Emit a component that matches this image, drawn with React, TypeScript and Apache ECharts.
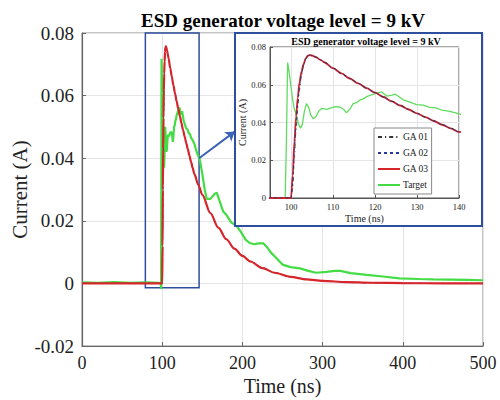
import React, { useEffect, useRef } from "react";
import * as echarts from "echarts";

// ---- data ----
const gaTime = [0, 100, 100.4, 100.8, 101.2, 101.6, 102, 102.5, 103, 103.5, 104, 104.5, 105, 106, 107, 108, 110, 112, 114, 116, 118, 120, 122, 124, 126, 128, 130, 132, 134, 136, 138, 140, 145, 150, 160, 170, 180, 190, 200, 210, 225, 240, 260, 280, 300, 330, 360, 400, 450, 500];
const ga01 = [0, 0, 0.005, 0.021, 0.036, 0.048, 0.057, 0.065, 0.07, 0.0735, 0.0752, 0.0757, 0.0756, 0.0747, 0.0733, 0.0719, 0.0689, 0.0661, 0.0634, 0.0608, 0.0583, 0.0559, 0.0536, 0.0513, 0.0491, 0.047, 0.0449, 0.0429, 0.0409, 0.0389, 0.037, 0.0351, 0.0316, 0.0284, 0.0226, 0.0179, 0.0142, 0.0112, 0.0089, 0.0071, 0.005, 0.0035, 0.0021, 0.0013, 0.0008, 0.0004, 0.0002, 0.0001, 0, 0];
const ga02 = [0, 0, 0.008, 0.025, 0.039, 0.05, 0.059, 0.066, 0.0705, 0.0738, 0.0753, 0.0757, 0.0756, 0.0746, 0.0732, 0.0718, 0.0688, 0.066, 0.0633, 0.0607, 0.0582, 0.0558, 0.0535, 0.0512, 0.049, 0.0469, 0.0448, 0.0428, 0.0408, 0.0388, 0.0369, 0.035, 0.0315, 0.0283, 0.0225, 0.0178, 0.0141, 0.0111, 0.0088, 0.007, 0.0049, 0.0034, 0.0021, 0.0013, 0.0008, 0.0004, 0.0002, 0.0001, 0, 0];
const ga03 = [0, 0, 0.012, 0.03, 0.043, 0.053, 0.061, 0.067, 0.071, 0.074, 0.0754, 0.0757, 0.0755, 0.0745, 0.0732, 0.0718, 0.0688, 0.066, 0.0633, 0.0607, 0.0582, 0.0558, 0.0535, 0.0512, 0.049, 0.0469, 0.0448, 0.0428, 0.0408, 0.0388, 0.0369, 0.035, 0.0315, 0.0283, 0.0225, 0.0178, 0.0141, 0.0111, 0.0088, 0.007, 0.0049, 0.0034, 0.0021, 0.0013, 0.0008, 0.0004, 0.0002, 0.0001, 0, 0];

const targetTime = [0, 20, 40, 60, 80, 95, 98.3, 98.6, 98.9, 99.2, 99.6, 100, 100.4, 100.8, 101.3, 101.8, 102.3, 102.7, 103.2, 103.7, 104.2, 104.7, 105.3, 105.9, 106.6, 107.3, 108.5, 109.5, 110.5, 111.6, 112.5, 113.2, 114, 114.8, 115.6, 116.5, 117.2, 118, 119, 120.4, 121.6, 122.8, 124, 124.8, 125.8, 126.7, 128, 129.9, 131.5, 133, 134.5, 136, 137.5, 139, 140.3, 143, 147, 150, 153, 155.5, 160, 165, 168, 172, 176, 180, 186, 193, 198, 204, 209, 215, 220, 226, 231, 235, 242, 250, 260, 272, 282, 292, 305, 315, 322, 335, 355, 375, 396, 420, 438, 460, 480, 500];
const targetValue = [0.0003, 0.0002, 0.0004, 0.0002, 0.0003, 0.0002, 0, -0.0018, 0.03, 0.0718, 0.066, 0.059, 0.052, 0.047, 0.044, 0.039, 0.037, 0.039, 0.046, 0.05, 0.048, 0.044, 0.042, 0.043, 0.046, 0.0475, 0.047, 0.0478, 0.0484, 0.0482, 0.047, 0.0452, 0.047, 0.05, 0.0505, 0.052, 0.0525, 0.0537, 0.0545, 0.0555, 0.0562, 0.054, 0.0545, 0.055, 0.0535, 0.052, 0.051, 0.0495, 0.0492, 0.048, 0.0478, 0.0465, 0.046, 0.0452, 0.0444, 0.042, 0.0394, 0.035, 0.03, 0.027, 0.027, 0.0285, 0.029, 0.026, 0.023, 0.0219, 0.0195, 0.0183, 0.0165, 0.014, 0.0129, 0.0125, 0.0128, 0.0128, 0.0115, 0.01, 0.0082, 0.006, 0.0052, 0.0048, 0.004, 0.0034, 0.0037, 0.004, 0.004, 0.0033, 0.0027, 0.0022, 0.0016, 0.0014, 0.0013, 0.0012, 0.0011, 0.001];

const seriesNames = ["GA 01", "GA 02", "GA 03", "Target"];
const zoomBoxX = [79, 146];
const zoomBoxY = [-0.0014, 0.08];
const arrowFrom = [146, 0.04];
const arrowTo = [190.5, 0.0485];
const titleText = "ESD generator voltage level = 9 kV";

const SERIF = "Liberation Serif";
const RED = "#d7262b";
const GREEN = "#44dc44";
const BLUE = "#2e4f9e";

const pairs = (xs: number[], ys: number[]) => xs.map((x, i) => [x, ys[i]]);
const fmtY = (v: number) => (Math.abs(v) < 1e-9 ? "0" : v.toFixed(2));

export default function App() {
  const ref = useRef<HTMLDivElement>(null);
  useEffect(() => {
    if (!ref.current) return;
    const chart = echarts.init(ref.current, undefined, { renderer: "svg" });
    const styles: any = {
      "GA 01": { color: "#333333", width: 0.8, type: [4, 3, 1.2, 3] },
      "GA 02": { color: "#26399c", width: 0.9, type: [3, 3] },
      "GA 03": { color: RED, width: 1.8, type: "solid" },
      Target: { color: "#5fdc5f", width: 1.3, type: "solid" },
    };
    const dataFor: any = {
      "GA 01": pairs(gaTime, ga01),
      "GA 02": pairs(gaTime, ga02),
      "GA 03": pairs(gaTime, ga03),
      Target: pairs(targetTime, targetValue),
    };
    const mainOrder = ["Target", "GA 01", "GA 02", "GA 03"];
    const insetOrder = ["Target", "GA 03", "GA 02", "GA 01"];
    const mainSeries = mainOrder.map((n, i) => ({
      name: n,
      type: "line",
      xAxisIndex: 0,
      yAxisIndex: 0,
      data: dataFor[n],
      symbol: "none",
      smooth: n === "Target" ? false : 0.3,
      smoothMonotone: "x",
      z: 2 + i * 0.1,
      itemStyle: { color: n === "Target" ? GREEN : styles[n].color },
      lineStyle: {
        color: n === "Target" ? GREEN : styles[n].color,
        width: n === "GA 03" ? 2.2 : n === "Target" ? 2.2 : 1,
        type: styles[n].type,
      },
      ...(n === "GA 03"
        ? {
            markArea: {
              silent: true,
              itemStyle: { color: "rgba(0,0,0,0)", borderColor: BLUE, borderWidth: 1.5 },
              label: { show: false },
              data: [[{ coord: [zoomBoxX[0], zoomBoxY[0]] }, { coord: [zoomBoxX[1], zoomBoxY[1]] }]],
            },
            markLine: {
              silent: true,
              symbol: ["none", "arrow"],
              symbolSize: 9,
              label: { show: false },
              lineStyle: { color: "#3a62b5", width: 2, type: "solid" },
              data: [[{ coord: arrowFrom }, { coord: arrowTo }]],
            },
          }
        : {}),
    }));
    const insetSeries = insetOrder.map((n, i) => ({
      name: n,
      type: "line",
      xAxisIndex: 1,
      yAxisIndex: 1,
      data: dataFor[n],
      symbol: "none",
      smooth: n === "Target" ? false : 0.3,
      smoothMonotone: "x",
      z: 13 + i * 0.1,
      itemStyle: { color: styles[n].color },
      lineStyle: { ...styles[n] },
    }));
    const axisText = { fontFamily: SERIF, color: "#222" };
    chart.setOption({
      animation: false,
      backgroundColor: "#fff",
      graphic: [
        {
          type: "text",
          x: 283,
          y: 20,
          z: 1,
          style: { text: titleText, font: `bold 19px "${SERIF}"`, fill: "#000", textAlign: "center", textVerticalAlign: "middle" },
        },
        {
          type: "rect",
          z: 10,
          shape: { x: 235, y: 33, width: 247, height: 193 },
          style: { fill: "#fff", stroke: BLUE, lineWidth: 2 },
        },
        {
          type: "text",
          x: 366,
          y: 41,
          z: 12,
          style: { text: titleText, font: `bold 10px "${SERIF}"`, fill: "#000", textAlign: "center", textVerticalAlign: "middle" },
        },
      ],
      legend: {
        data: seriesNames,
        orient: "vertical",
        left: 374,
        top: 128,
        z: 20,
        itemWidth: 22,
        itemHeight: 8,
        itemGap: 6,
        padding: [4, 3, 4, 3],
        borderColor: "#888",
        borderWidth: 1,
        backgroundColor: "#fff",
        itemStyle: { opacity: 0 },
        textStyle: { fontFamily: SERIF, fontSize: 9.5, color: "#222", padding: [0, 0, 0, -2] },
      },
      grid: [
        { left: 82, top: 33, right: 17, bottom: 54, show: true, borderColor: "#888", borderWidth: 1, backgroundColor: "#fff", z: 0, outerBoundsMode: "none", containLabel: false },
        { left: 270, top: 47, width: 189, height: 151, show: true, borderColor: "#555", borderWidth: 1, backgroundColor: "#fff", z: 11, outerBoundsMode: "none", containLabel: false },
      ],
      xAxis: [
        {
          type: "value",
          gridIndex: 0,
          min: 0,
          max: 500,
          interval: 100,
          name: "Time (ns)",
          nameLocation: "middle",
          nameMoveOverlap: false,
          nameGap: 30,
          nameTextStyle: { ...axisText, fontSize: 20 },
          axisLine: { onZero: false, lineStyle: { color: "#666", width: 1.2 } },
          axisTick: { inside: true, length: 4, lineStyle: { color: "#666" } },
          axisLabel: { ...axisText, fontSize: 18, margin: 8 },
          splitLine: { show: true, lineStyle: { color: "#e4e4e4" } },
        },
        {
          type: "value",
          gridIndex: 1,
          min: 95,
          max: 140,
          splitNumber: 4,
          z: 12,
          name: "Time (ns)",
          nameLocation: "middle",
          nameMoveOverlap: false,
          nameGap: 15,
          nameTextStyle: { ...axisText, fontSize: 10 },
          axisLine: { onZero: false, lineStyle: { color: "#555" } },
          axisTick: { inside: true, length: 3, lineStyle: { color: "#555" } },
          axisLabel: { ...axisText, fontSize: 8.5, margin: 4, formatter: (v: number) => (v === 95 ? "" : String(v)) },
          splitLine: { show: true, lineStyle: { color: "#e4e4e4" } },
        },
      ],
      yAxis: [
        {
          type: "value",
          gridIndex: 0,
          min: -0.02,
          max: 0.08,
          interval: 0.02,
          name: "Current (A)",
          nameLocation: "middle",
          nameMoveOverlap: false,
          nameGap: 52,
          nameTextStyle: { ...axisText, fontSize: 21 },
          axisLine: { show: true, onZero: false, lineStyle: { color: "#666", width: 1.2 } },
          axisTick: { show: true, inside: true, length: 4, lineStyle: { color: "#666" } },
          axisLabel: { ...axisText, fontSize: 19, margin: 8, formatter: fmtY },
          splitLine: { show: true, lineStyle: { color: "#e4e4e4" } },
        },
        {
          type: "value",
          gridIndex: 1,
          min: 0,
          max: 0.08,
          interval: 0.02,
          z: 12,
          name: "Current (A)",
          nameLocation: "middle",
          nameMoveOverlap: false,
          nameGap: 23,
          nameTextStyle: { ...axisText, fontSize: 10 },
          axisLine: { show: true, onZero: false, lineStyle: { color: "#555" } },
          axisTick: { show: true, inside: true, length: 3, lineStyle: { color: "#555" } },
          axisLabel: { ...axisText, fontSize: 8.5, margin: 4, formatter: fmtY },
          splitLine: { show: true, lineStyle: { color: "#e4e4e4" } },
        },
      ],
      series: [...mainSeries, ...insetSeries],
    });
    return () => chart.dispose();
  }, []);
  return <div ref={ref} style={{ position: "fixed", left: 0, top: 0, width: 500, height: 400 }} />;
}
